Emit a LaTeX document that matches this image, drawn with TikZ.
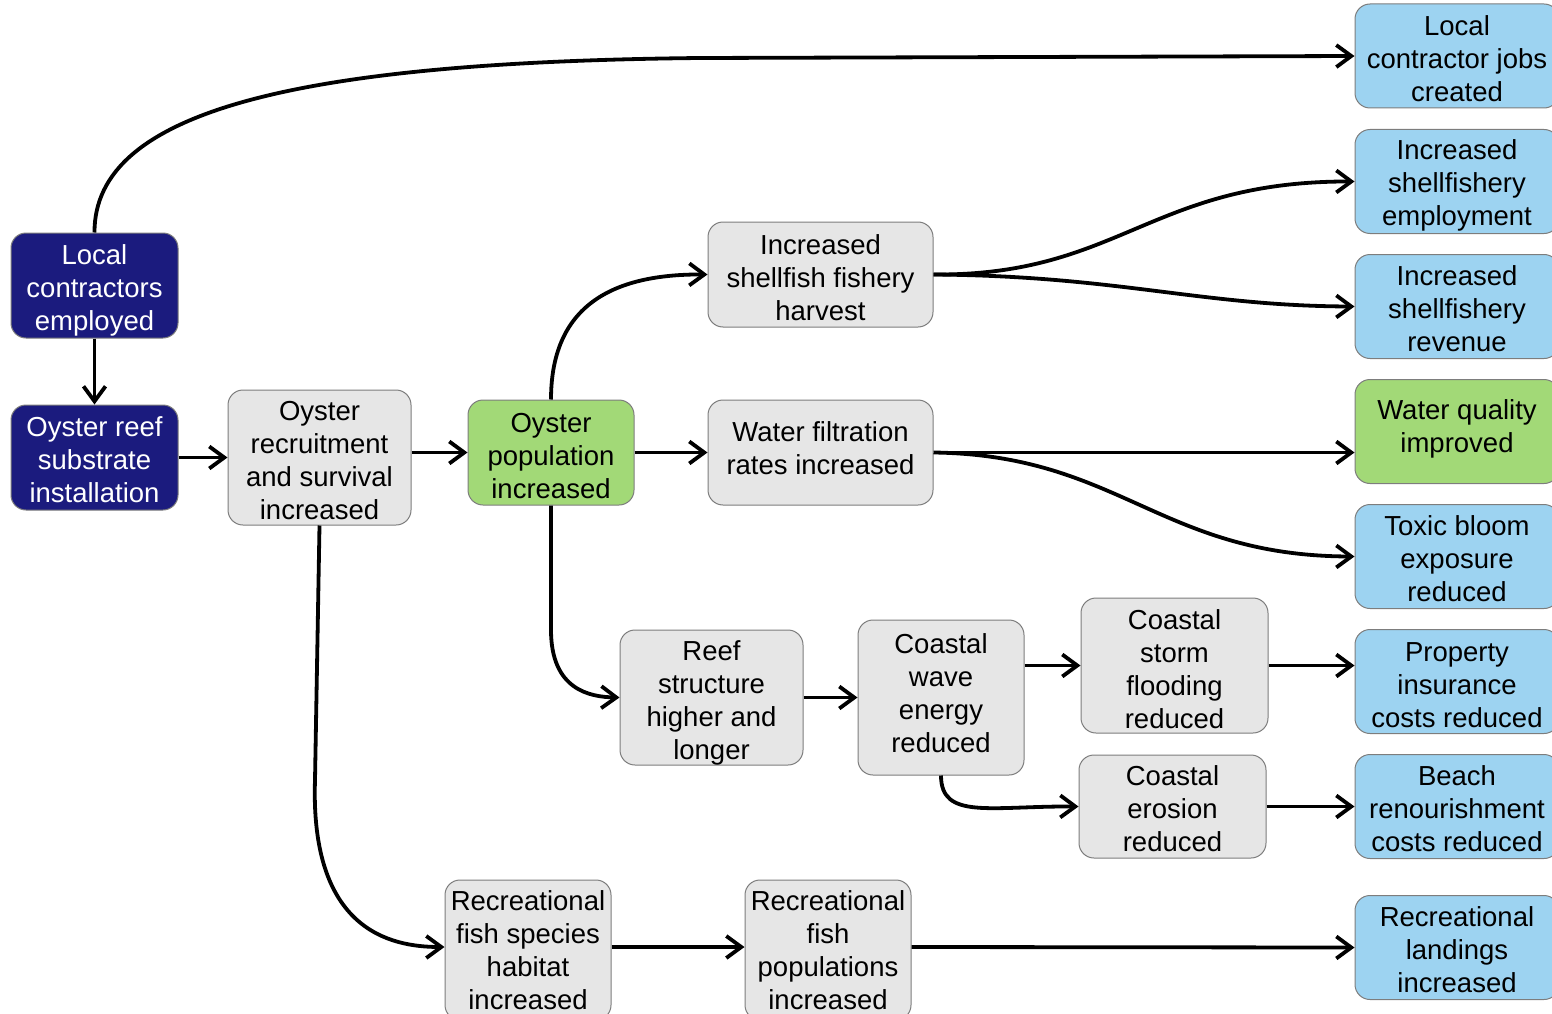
\documentclass[tikz,border=0pt]{standalone}
\usepackage{fontspec}
\setmainfont{Liberation Sans}
\usetikzlibrary{arrows.meta}
\definecolor{navy}{RGB}{27,27,126}
\definecolor{leaf}{RGB}{162,217,119}
\definecolor{sky}{RGB}{157,211,241}
\definecolor{pale}{RGB}{230,230,230}
\definecolor{rim}{RGB}{125,125,125}
\newcommand\tstr[1]{\rule{0pt}{#1pt}}
\tikzset{
  box/.style={draw=rim, line width=1pt, rounded corners=15pt, align=center, inner sep=0pt,
    font=\fontsize{27.5}{33}\selectfont},
  dbox/.style={box, fill=navy, text=white},
  gbox/.style={box, fill=pale},
  lbox/.style={box, fill=leaf},
  bbox/.style={box, fill=sky, minimum width=204, minimum height=104},
  up/.style={execute at end node={\rule[-#1pt]{0pt}{#1pt}}},
  link/.style={line width=3.8pt, -{Straight Barb[length=15pt,width=22pt]}}
}
\begin{document}
\begin{tikzpicture}[x=1pt,y=-1pt]
\useasboundingbox (0,0) rectangle (1552,1014);
% left
\node[dbox, minimum width=167, minimum height=105] (lce) at (94.5,285.5) {\tstr{30}Local\\contractors\\employed};
\node[dbox, minimum width=167, minimum height=105] (ors) at (94.5,457.5) {\tstr{24}Oyster reef\\substrate\\installation};
\node[gbox, minimum width=183, minimum height=135] (rec) at (319.5,457.5) {\tstr{26}Oyster\\recruitment\\and survival\\increased};
\node[lbox, minimum width=166, minimum height=105] (pop) at (551,452.5) {\tstr{26}Oyster\\population\\increased};
\node[gbox, minimum width=225, minimum height=105] (harv) at (820.5,274.5) {\tstr{26}Increased\\shellfish fishery\\harvest};
\node[gbox, up=8, minimum width=225, minimum height=105] (filt) at (820.5,452.5) {Water filtration\\rates increased};
\node[gbox, minimum width=183, minimum height=135] (reef) at (711.5,697.5) {\tstr{30}Reef\\structure\\higher and\\longer};
\node[gbox, up=8, minimum width=166, minimum height=155] (wave) at (941,697.5) {Coastal\\wave\\energy\\reduced};
\node[gbox, minimum width=187, minimum height=135] (storm) at (1174.5,665.5) {\tstr{28}Coastal\\storm\\flooding\\reduced};
\node[gbox, minimum width=187, minimum height=103] (eros) at (1172.5,806.5) {\tstr{24}Coastal\\erosion\\reduced};
\node[gbox, minimum width=166, minimum height=140] (hab) at (528,950) {Recreational\\fish species\\habitat\\increased};
\node[gbox, minimum width=166, minimum height=140] (fpop) at (828,950) {Recreational\\fish\\populations\\increased};
% right column
\node[bbox] (jobs) at (1457,56) {\tstr{26}Local\\contractor jobs\\created};
\node[bbox] (empl) at (1457,181.5) {\tstr{28}Increased\\shellfishery\\employment};
\node[bbox] (rev) at (1457,306.5) {\tstr{25}Increased\\shellfishery\\revenue};
\node[bbox, up=10, fill=leaf] (wq) at (1457,431.5) {Water quality\\improved};
\node[bbox] (tox) at (1457,556.5) {\tstr{24}Toxic bloom\\exposure\\reduced};
\node[bbox] (prop) at (1457,681.5) {\tstr{26}Property\\insurance\\costs reduced};
\node[bbox] (beach) at (1457,806.5) {\tstr{24}Beach\\renourishment\\costs reduced};
\node[bbox] (land) at (1457,947.5) {\tstr{24}Recreational\\landings\\increased};
% connectors
\draw[link] (lce.north) .. controls (94,110) and (300,62) .. (700,58) -- (jobs.west |- 0,56);
\draw[link] (lce.south) -- (ors.north);
\draw[link] (ors.east) -- (rec.west);
\draw[link] (rec.east |- pop.west) -- (pop.west);
\draw[link] (pop.north) .. controls (551,300) and (620,274) .. (harv.west);
\draw[link] (pop.east) -- (filt.west);
\draw[link] (pop.south) -- (551,630) .. controls (551,690) and (590,697) .. (reef.west);
\draw[link] (harv.east) .. controls (1120,276) and (1150,181) .. (empl.west);
\draw[link] (harv.east) .. controls (1120,276) and (1200,306) .. (rev.west);
\draw[link] (filt.east) -- (filt.east -| wq.west);
\draw[link] (filt.east) .. controls (1120,455) and (1160,556) .. (tox.west);
\draw[link] (reef.east) -- (wave.west);
\draw[link] (wave.east |- storm.west) -- (storm.west);
\draw[link] (wave.south) .. controls (941,820) and (990,806) .. (eros.west);
\draw[link] (storm.east) -- (storm.east -| prop.west);
\draw[link] (eros.east) -- (eros.east -| beach.west);
\draw[link] (rec.south) -- (315,780) .. controls (310,930) and (390,947) .. (hab.west |- 0,947);
\draw[link] (hab.east |- 0,947) -- (fpop.west |- 0,947);
\draw[link] (fpop.east |- 0,947) -- (land.west);
\end{tikzpicture}
\end{document}
